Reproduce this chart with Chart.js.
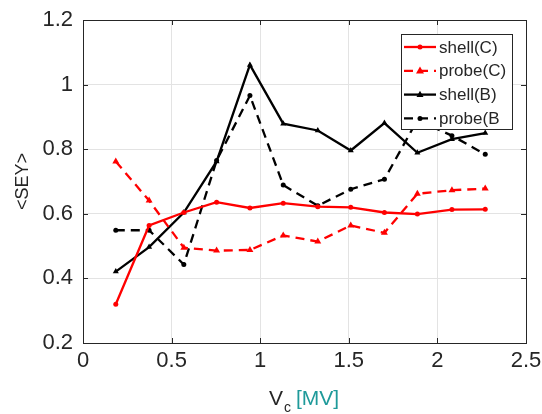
<!DOCTYPE html>
<html>
<head>
<meta charset="utf-8">
<script src="https://cdn.jsdelivr.net/npm/chart.js@4.4.1/dist/chart.umd.min.js"></script>
<style>
html,body{margin:0;padding:0;background:#fff;}
#wrap{width:542px;height:414px;position:relative;}
</style>
</head>
<body>
<div id="wrap"><canvas id="c" width="542" height="414"></canvas></div>
<script>
const xValues = [0.185, 0.373, 0.569, 0.754, 0.942, 1.13, 1.325, 1.511, 1.701, 1.887, 2.082, 2.27];
const shellC = [0.32, 0.564, 0.604, 0.636, 0.618, 0.633, 0.622, 0.620, 0.604, 0.599, 0.613, 0.614];
const probeC = [0.762, 0.641, 0.495, 0.486, 0.488, 0.533, 0.514, 0.564, 0.541, 0.662, 0.673, 0.678];
const shellB = [0.421, 0.497, 0.604, 0.762, 1.061, 0.879, 0.858, 0.796, 0.881, 0.789, 0.831, 0.850];
const probeB = [0.549, 0.549, 0.443, 0.765, 0.966, 0.689, 0.625, 0.676, 0.707, 0.89, 0.842, 0.784];
const seriesNames = ['shell(C)', 'probe(C)', 'shell(B)', 'probe(B'];
const xTicks = [0, 0.5, 1, 1.5, 2, 2.5];
const yTicks = [0.2, 0.4, 0.6, 0.8, 1, 1.2];
const yTitle = '<SEY>';
const xTitleMain = 'V';
const xTitleSub = 'c';
const xTitleUnit = '[MV]';

const FONT = 'Liberation Sans, Arial, Helvetica, sans-serif';
const RED = '#ff0000', BLACK = '#000000';

function pts(ys){ return ys.map((y,i)=>({x:xValues[i], y:y})); }

const datasets = [
  {label: seriesNames[0], data: pts(shellC), borderColor: RED, backgroundColor: RED, borderWidth: 2.3, pointStyle:'circle', pointRadius: 2.5},
  {label: seriesNames[1], data: pts(probeC), borderColor: RED, backgroundColor: RED, borderWidth: 2.3, borderDash:[9,6], pointStyle:'triangle', pointRadius: 4},
  {label: seriesNames[2], data: pts(shellB), borderColor: BLACK, backgroundColor: BLACK, borderWidth: 2.3, pointStyle:'triangle', pointRadius: 3.5},
  {label: seriesNames[3], data: pts(probeB), borderColor: BLACK, backgroundColor: BLACK, borderWidth: 2.3, borderDash:[9,6], pointStyle:'circle', pointRadius: 2.5}
];
datasets.forEach(d=>{ d.pointBorderWidth = 0; d.tension = 0; d.fill = false; d.pointHoverRadius = d.pointRadius; });

const boxPlugin = {
  id: 'boxPlugin',
  beforeDatasetsDraw(chart){
    const {ctx, chartArea:a} = chart;
    ctx.save();
    ctx.strokeStyle = '#262626';
    ctx.lineWidth = 1;
    ctx.strokeRect(Math.round(a.left)+0.5, Math.round(a.top)+0.5, Math.round(a.right-a.left), Math.round(a.bottom-a.top));
    const xs = chart.scales.x, ys = chart.scales.y;
    ctx.beginPath();
    xTicks.forEach(v=>{ const px = Math.round(xs.getPixelForValue(v))+0.5; ctx.moveTo(px,a.bottom); ctx.lineTo(px,a.bottom-5); ctx.moveTo(px,a.top); ctx.lineTo(px,a.top+5); });
    yTicks.forEach(v=>{ const py = Math.round(ys.getPixelForValue(v))+0.5; ctx.moveTo(a.left,py); ctx.lineTo(a.left+5,py); ctx.moveTo(a.right,py); ctx.lineTo(a.right-5,py); });
    ctx.stroke();
    ctx.restore();
  },
  afterDraw(chart){
    const {ctx} = chart;
    ctx.save();
    ctx.textBaseline = 'alphabetic';
    ctx.textAlign = 'left';
    ctx.fillStyle = '#262626';
    ctx.font = '21px ' + FONT;
    let x = 269, y = 405;
    ctx.fillText(xTitleMain, x, y);
    x += ctx.measureText(xTitleMain).width + 1;
    ctx.font = '14px ' + FONT;
    ctx.fillText(xTitleSub, x, y + 7);
    x += ctx.measureText(xTitleSub).width + 5;
    ctx.font = '21px ' + FONT;
    ctx.fillStyle = '#1f9a9a';
    ctx.fillText(xTitleUnit, x, y);

    const lx = 401, ly = 34, lw = 111, lh = 95;
    ctx.fillStyle = '#ffffff';
    ctx.fillRect(lx, ly, lw, lh);
    ctx.strokeStyle = '#262626';
    ctx.lineWidth = 1;
    ctx.strokeRect(lx+0.5, ly+0.5, lw, lh);
    ctx.font = '17px ' + FONT;
    ctx.textBaseline = 'middle';
    chart.data.datasets.forEach((d,i)=>{
      const yy = 47 + i*23.8;
      ctx.strokeStyle = d.borderColor;
      ctx.lineWidth = 2.3;
      ctx.setLineDash(d.borderDash || []);
      ctx.beginPath(); ctx.moveTo(404, yy); ctx.lineTo(436, yy); ctx.stroke();
      ctx.setLineDash([]);
      ctx.fillStyle = d.backgroundColor;
      const cx = 420, r = d.pointRadius;
      ctx.beginPath();
      if (d.pointStyle === 'triangle') {
        ctx.moveTo(cx, yy - r*1.1); ctx.lineTo(cx + r, yy + r*0.7); ctx.lineTo(cx - r, yy + r*0.7); ctx.closePath();
      } else {
        ctx.arc(cx, yy, r, 0, Math.PI*2);
      }
      ctx.fill();
      ctx.fillStyle = '#262626';
      ctx.fillText(d.label, 439, yy + 1);
    });
    ctx.restore();
  }
};

new Chart(document.getElementById('c'), {
  type: 'line',
  data: { datasets },
  plugins: [boxPlugin],
  options: {
    responsive: false,
    animation: false,
    events: [],
    layout: { padding: { top: 20, right: 0, left: 0, bottom: 0 } },
    plugins: { legend: { display: false }, tooltip: { enabled: false } },
    scales: {
      x: {
        type: 'linear', min: 0, max: 2.5,
        afterBuildTicks(s){ s.ticks = xTicks.map(v=>({value:v})); },
        afterFit(s){ s.height = 71; s.paddingRight = 16; s.paddingLeft = 0; },
        grid: { color: '#e3e3e3', lineWidth: 1, drawTicks: false },
        border: { display: false },
        ticks: { color: '#262626', font: { family: FONT, size: 22 }, padding: 5, maxRotation: 0, autoSkip: false,
                 callback: v => String(v) },
        title: { display: false }
      },
      y: {
        type: 'linear', min: 0.2, max: 1.2,
        afterBuildTicks(s){ s.ticks = yTicks.map(v=>({value:v})); },
        afterFit(s){ s.width = 83; s.paddingTop = 0; s.paddingBottom = 0; },
        grid: { color: '#e3e3e3', lineWidth: 1, drawTicks: false },
        border: { display: false },
        ticks: { color: '#262626', font: { family: FONT, size: 22 }, padding: 10, autoSkip: false,
                 callback: v => String(v) },
        title: { display: true, text: yTitle, color: '#262626', font: { family: FONT, size: 18 }, padding: { top: 12, bottom: 0 } }
      }
    }
  }
});
</script>
</body>
</html>
